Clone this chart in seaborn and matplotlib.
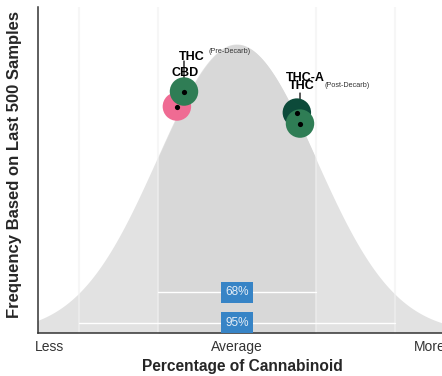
import numpy as np
import pandas as pd
import seaborn as sns
import matplotlib.pyplot as plt

# cannabinoid positions on the distribution (in standard deviations) and frequency (peak = 1)
cannabinoids = ["CBD", "THC", "THC-A", "THC"]
stages = ["", "Pre-Decarb", "", "Post-Decarb"]
position = [-0.76, -0.67, 0.76, 0.80]
frequency = [0.785, 0.837, 0.764, 0.726]
tick_pos = [-2.37, 0, 2.44]
tick_labels = ["Less", "Average", "More"]
bands = ["68%", "95%"]
band_sd = [1, 2]
band_height = [0.142, 0.035]

sns.set_style("white")
plt.rcParams['font.family'] = ['Liberation Sans', 'DejaVu Sans']

df = pd.DataFrame({"name": cannabinoids, "stage": stages, "x": position, "y": frequency})
df["key"] = [n + " " + s for n, s in zip(df["name"], df["stage"])]
palette = dict(zip(df["key"], ["#ef6b93", "#2f7d55", "#0c4a3a", "#2f7d55"]))

fig = plt.figure(figsize=(4.42, 3.76), dpi=100)
ax = fig.add_axes([38 / 442, 43 / 376, 408 / 442, 326 / 376])

# normal curve, shaded inside one standard deviation
xs = np.linspace(-3, 3, 400)
curve = np.exp(-xs ** 2 / 2)
ax.fill_between(xs, 0, curve, color="#e2e2e2", lw=0, zorder=1)
inner = np.abs(xs) <= 1
ax.fill_between(xs[inner], 0, curve[inner], color="#d8d8d8", lw=0, zorder=1)

for g in [-2, -1, 1, 2]:
    ax.axvline(g, color="#f0f0f0", alpha=0.6, lw=1.5, zorder=2)

for lab, sd, h in zip(bands, band_sd, band_height):
    ax.plot([-sd, sd], [h, h], color="white", lw=1, zorder=3)
    ax.text(0, h, lab, ha="center", va="center", fontsize=8.5, color="#e4edf6", zorder=4,
            bbox=dict(boxstyle="square,pad=0.38", fc="#3784c6", ec="none"))

# leader lines for the THC labels
for i in [1, 3]:
    ax.annotate("", xy=(df.x[i], df.y[i]), xytext=(0, 22), textcoords="offset points",
                arrowprops=dict(arrowstyle="-", color="black", lw=0.9, shrinkA=0, shrinkB=0),
                zorder=4)

sns.scatterplot(data=df, x="x", y="y", hue="key", palette=palette, s=420,
                linewidth=0, legend=False, ax=ax, zorder=5)
sns.scatterplot(data=df, x="x", y="y", color="black", s=14, linewidth=0,
                legend=False, ax=ax, zorder=6)

# labels (offsets in pixels)
name_off = [(8, 34), (8, 35), (8, 35), (2, 38)]
stage_off = [None, (25, 40), None, (24, 38)]
for i, row in df.iterrows():
    dx, dy = name_off[i]
    ax.annotate(row["name"], (row.x, row.y), xytext=(dx * 0.72, dy * 0.72),
                textcoords="offset points", ha="center", va="center",
                fontsize=9, fontweight="bold", color="black", zorder=7)
    if row["stage"]:
        sx, sy = stage_off[i]
        ax.annotate("(" + row["stage"] + ")", (row.x, row.y), xytext=(sx * 0.72, sy * 0.72),
                    textcoords="offset points", ha="left", va="center",
                    fontsize=5.2, color="#333333", zorder=7)

ax.set_xlim(-2.52, 2.65)
ax.set_ylim(0, 1.13)
ax.set_xticks(tick_pos)
ax.set_xticklabels(tick_labels)
ax.set_yticks([])
ax.tick_params(axis="x", length=0, labelsize=10, pad=5, colors="#333333")
for s in ["top", "right"]:
    ax.spines[s].set_visible(False)
for s in ["left", "bottom"]:
    ax.spines[s].set_color("#333333")
    ax.spines[s].set_linewidth(1.1)

ax.set_xlabel("Percentage of Cannabinoid", fontsize=11.2, fontweight="bold", labelpad=4)
ax.set_ylabel("Frequency Based on Last 500 Samples", fontsize=12, fontweight="bold")
ax.yaxis.set_label_coords(-0.039, 0.518)

fig.savefig("out.png", dpi=100)
